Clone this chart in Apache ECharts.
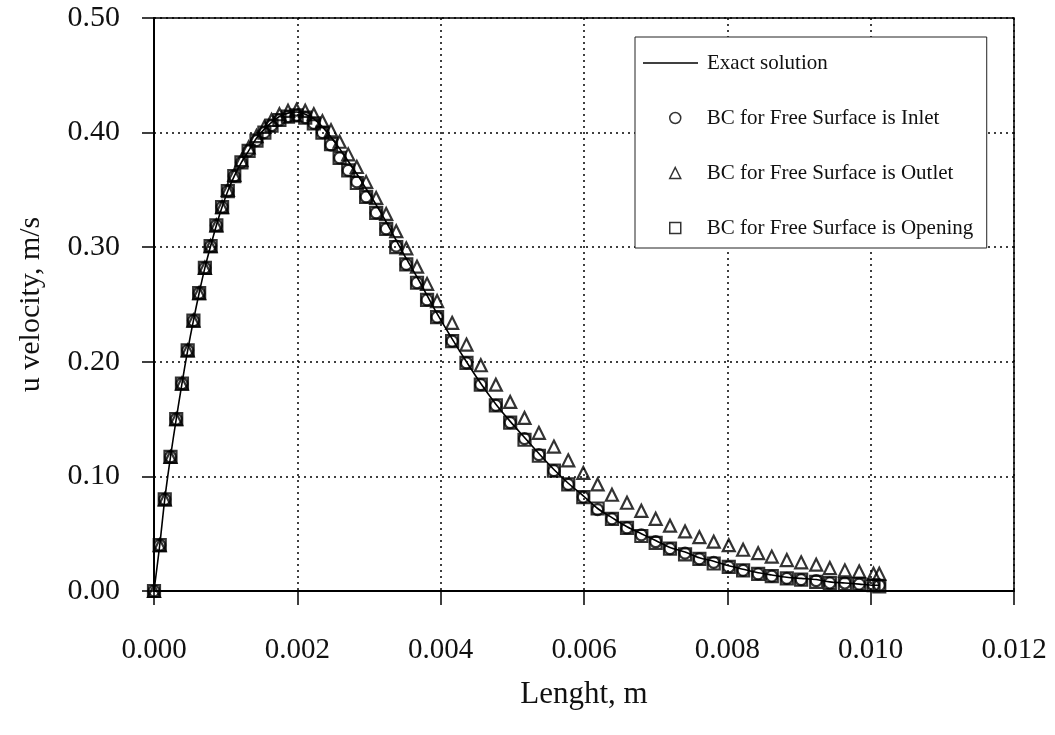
<!DOCTYPE html>
<html><head><meta charset="utf-8">
<script src="https://cdn.jsdelivr.net/npm/echarts@6/dist/echarts.min.js"></script>
<style>html,body{margin:0;padding:0;background:#fff}#c{width:1055px;height:735px}</style>
</head><body><div id="c"></div>
<script>
// x positions (m)
const lengthX = [0, 0.00008, 0.00015, 0.00023, 0.00031, 0.00039, 0.00047, 0.00055, 0.00063, 0.00071,
  0.00079, 0.00087, 0.00095, 0.00103, 0.00112, 0.00122, 0.00132, 0.00143, 0.00154, 0.00164,
  0.00175, 0.00187, 0.00199, 0.00211, 0.00223, 0.00235, 0.00247, 0.00259, 0.00271, 0.00283,
  0.00296, 0.00310, 0.00324, 0.00338, 0.00352, 0.00367, 0.00381, 0.00395, 0.00416, 0.00436,
  0.00456, 0.00477, 0.00497, 0.00517, 0.00537, 0.00558, 0.00578, 0.00599, 0.00619, 0.00639,
  0.00660, 0.00680, 0.00700, 0.00720, 0.00741, 0.00761, 0.00781, 0.00802, 0.00822, 0.00843,
  0.00862, 0.00883, 0.00903, 0.00924, 0.00943, 0.00964, 0.00984, 0.01004, 0.01012];

const exactU = [0, 0.040, 0.080, 0.117, 0.150, 0.181, 0.210, 0.236, 0.260, 0.282,
  0.301, 0.319, 0.335, 0.349, 0.362, 0.374, 0.384, 0.395, 0.403, 0.409,
  0.414, 0.417, 0.418, 0.416, 0.412, 0.405, 0.396, 0.386, 0.375, 0.364,
  0.351, 0.337, 0.322, 0.306, 0.290, 0.274, 0.258, 0.242, 0.220, 0.200,
  0.181, 0.163, 0.148, 0.134, 0.120, 0.106, 0.094, 0.083, 0.072, 0.064,
  0.056, 0.050, 0.044, 0.038, 0.034, 0.029, 0.026, 0.022, 0.019, 0.016,
  0.014, 0.012, 0.011, 0.010, 0.008, 0.007, 0.006, 0.005, 0.005];

const inletU = [0, 0.040, 0.080, 0.117, 0.150, 0.181, 0.210, 0.236, 0.260, 0.282,
  0.301, 0.319, 0.335, 0.349, 0.362, 0.374, 0.384, 0.393, 0.400, 0.406,
  0.411, 0.414, 0.415, 0.413, 0.408, 0.400, 0.389, 0.378, 0.367, 0.357,
  0.344, 0.330, 0.316, 0.301, 0.285, 0.269, 0.254, 0.239, 0.218, 0.199,
  0.180, 0.162, 0.147, 0.133, 0.119, 0.105, 0.093, 0.082, 0.071, 0.063,
  0.055, 0.049, 0.043, 0.037, 0.033, 0.028, 0.025, 0.021, 0.018, 0.015,
  0.013, 0.011, 0.010, 0.009, 0.007, 0.007, 0.006, 0.005, 0.005];

const outletU = [0, 0.040, 0.080, 0.117, 0.150, 0.181, 0.210, 0.236, 0.260, 0.282,
  0.301, 0.319, 0.335, 0.350, 0.363, 0.376, 0.387, 0.397, 0.405, 0.411,
  0.416, 0.419, 0.420, 0.419, 0.416, 0.410, 0.402, 0.392, 0.381, 0.370,
  0.357, 0.343, 0.329, 0.314, 0.299, 0.283, 0.268, 0.253, 0.234, 0.215,
  0.197, 0.180, 0.165, 0.151, 0.138, 0.126, 0.114, 0.103, 0.093, 0.084,
  0.077, 0.070, 0.063, 0.057, 0.052, 0.047, 0.043, 0.040, 0.036, 0.033,
  0.030, 0.027, 0.025, 0.023, 0.020, 0.018, 0.017, 0.015, 0.015];

const openingU = [0, 0.040, 0.080, 0.117, 0.150, 0.181, 0.210, 0.236, 0.260, 0.282,
  0.301, 0.319, 0.335, 0.349, 0.362, 0.374, 0.384, 0.393, 0.400, 0.406,
  0.411, 0.414, 0.415, 0.413, 0.408, 0.400, 0.390, 0.378, 0.367, 0.356,
  0.344, 0.330, 0.316, 0.300, 0.285, 0.269, 0.254, 0.239, 0.218, 0.199,
  0.180, 0.162, 0.147, 0.132, 0.118, 0.105, 0.093, 0.082, 0.072, 0.063,
  0.055, 0.048, 0.042, 0.037, 0.032, 0.028, 0.024, 0.021, 0.018, 0.015,
  0.013, 0.011, 0.010, 0.008, 0.007, 0.006, 0.006, 0.005, 0.004];

const seriesNames = ['Exact solution', 'BC for Free Surface is Inlet', 'BC for Free Surface is Outlet', 'BC for Free Surface is Opening'];
const xAxisName = 'Lenght, m';
const yAxisName = 'u velocity, m/s';

const pair = (ys) => lengthX.map((x, i) => [x, ys[i]]);
const FONT = 'Liberation Serif';
const markerStyle = { color: 'rgba(255,255,255,0)', borderColor: '#000', borderWidth: 2.2 };
const legendText = { fontFamily: FONT, fontSize: 21, color: '#111', lineHeight: 24 };

const chart = echarts.init(document.getElementById('c'), null, { renderer: 'canvas' });
chart.setOption({
  animation: false,
  backgroundColor: '#fff',
  grid: { left: 154, right: 41, top: 18, bottom: 144, containLabel: false, outerBoundsMode: 'none',
    show: true, borderColor: '#000', borderWidth: 1.5, backgroundColor: 'transparent' },
  legend: [
    {
      orient: 'vertical', left: 635, top: 37,
      padding: [14, 159, 173, 8],
      itemWidth: 55, itemHeight: 1.6,
      backgroundColor: '#fff', borderColor: '#222', borderWidth: 1, borderRadius: 0,
      textStyle: Object.assign({ padding: [0, 0, 0, 4] }, legendText),
      data: [{ name: seriesNames[0], icon: 'rect', itemStyle: { color: '#000', borderWidth: 0 } }]
    },
    {
      orient: 'vertical', left: 669, top: 106,
      padding: 0, itemGap: 31,
      itemWidth: 11, itemHeight: 11,
      textStyle: Object.assign({ padding: [0, 0, 0, 21] }, legendText),
      itemStyle: { color: 'rgba(255,255,255,0)', borderColor: '#000', borderWidth: 1.5 },
      data: [
        { name: seriesNames[1], icon: 'circle' },
        { name: seriesNames[2], icon: 'triangle' },
        { name: seriesNames[3], icon: 'rect' }
      ]
    }
  ],
  xAxis: {
    type: 'value', min: 0, max: 0.012, interval: 0.002,
    name: xAxisName, nameLocation: 'middle', nameGap: 88, nameMoveOverlap: false,
    nameTextStyle: { fontFamily: FONT, fontSize: 31, color: '#111' },
    axisLine: { show: true, onZero: false, lineStyle: { color: '#000', width: 2 } },
    axisTick: { show: true, length: 14, lineStyle: { color: '#000', width: 1.5 } },
    axisLabel: { margin: 45, fontFamily: FONT, fontSize: 29, color: '#111', formatter: v => v.toFixed(3) },
    splitLine: { show: true, lineStyle: { color: '#000', width: 1.5, type: [2, 4] } }
  },
  yAxis: {
    type: 'value', min: 0, max: 0.5, interval: 0.1,
    name: yAxisName, nameLocation: 'middle', nameGap: 108, nameMoveOverlap: false,
    nameTextStyle: { fontFamily: FONT, fontSize: 30, color: '#111' },
    axisLine: { show: true, lineStyle: { color: '#000', width: 2 } },
    axisTick: { show: true, length: 12, lineStyle: { color: '#000', width: 1.5 } },
    axisLabel: { margin: 34, fontFamily: FONT, fontSize: 30, color: '#111', formatter: v => v.toFixed(2) },
    splitLine: { show: true, lineStyle: { color: '#000', width: 1.5, type: [2, 4] } }
  },
  series: [
    { name: seriesNames[0], type: 'line', data: pair(exactU), symbol: 'none', smooth: 0.3,
      lineStyle: { color: '#000', width: 1.6 }, itemStyle: { color: '#000' }, z: 2 },
    { name: seriesNames[3], type: 'scatter', data: pair(openingU), symbol: 'rect', symbolSize: 12,
      itemStyle: markerStyle, z: 3 },
    { name: seriesNames[1], type: 'scatter', data: pair(inletU), symbol: 'circle', symbolSize: 11,
      itemStyle: markerStyle, z: 4 },
    { name: seriesNames[2], type: 'scatter', data: pair(outletU), symbol: 'triangle', symbolSize: 12,
      itemStyle: markerStyle, z: 5 }
  ]
});
</script></body></html>
